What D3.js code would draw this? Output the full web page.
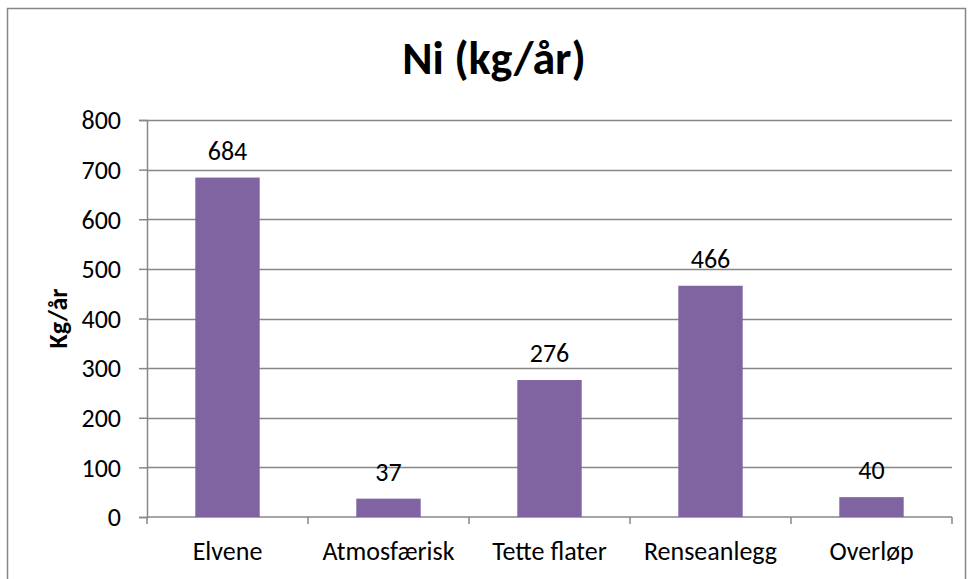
<!DOCTYPE html>
<html>
<head>
<meta charset="utf-8">
<script src="https://cdn.jsdelivr.net/npm/d3@7"></script>
<style>
  body { margin: 0; background: #fff; }
  text { font-family: Carlito, Lato, "Open Sans", sans-serif; fill: #000; }
</style>
</head>
<body>
<div id="chart"></div>
<script>
// Chart data
const categories = ["Elvene", "Atmosfærisk", "Tette flater", "Renseanlegg", "Overløp"];
const values = [684, 37, 276, 466, 40];
const yTicks = [0, 100, 200, 300, 400, 500, 600, 700, 800];
const titleText = "Ni (kg/år)";
const yLabelText = "Kg/år";

const width = 971, height = 579;
const margin = {top: 120, right: 19, bottom: 62, left: 147};
const plot_width = width - margin.left - margin.right;
const plot_height = height - margin.top - margin.bottom;
const grid_color = "#878787";
const bar_color = "#8064a2";
const label_size = "26px";

let svg = d3.select("#chart")
    .append("svg")
    .attr("width", width)
    .attr("height", height);

// Outer chart border
svg.append("rect")
    .attr("x", 7.5)
    .attr("y", 8.5)
    .attr("width", 958)
    .attr("height", 580)
    .attr("fill", "none")
    .attr("stroke", "#868686")
    .attr("stroke-width", 1.5);

// Title
svg.append("text")
    .attr("x", 494)
    .attr("y", 74)
    .style("text-anchor", "middle")
    .style("font-size", "46px")
    .style("font-weight", "bold")
    .text(titleText);

let g = svg.append("g")
    .attr("transform", `translate(${margin.left}, ${margin.top})`);

let x = d3.scaleBand()
    .domain(categories)
    .range([0, plot_width])
    .padding(0);
let y = d3.scaleLinear()
    .domain([0, 800])
    .range([plot_height, 0]);

// Horizontal gridlines
g.append("g")
    .selectAll("line")
    .data(yTicks.filter(d => d > 0))
    .enter()
    .append("line")
    .attr("x1", 0)
    .attr("x2", plot_width)
    .attr("y1", d => Math.round(y(d)) + 0.5)
    .attr("y2", d => Math.round(y(d)) + 0.5)
    .attr("stroke", grid_color)
    .attr("stroke-width", 1.5);

// Y axis
let y_axis = g.append("g")
    .call(d3.axisLeft(y).tickValues(yTicks).tickSize(8).tickPadding(18));
y_axis.select(".domain").attr("stroke", grid_color).attr("stroke-width", 1.5);
y_axis.selectAll(".tick line").attr("stroke", grid_color).attr("stroke-width", 1.5);
y_axis.selectAll(".tick text")
    .style("font-size", label_size)
    .attr("dy", "0.34em");

// X axis: ticks at category boundaries
let x_axis = g.append("g")
    .attr("transform", `translate(0, ${plot_height})`);
x_axis.append("line")
    .attr("x1", 0)
    .attr("x2", plot_width)
    .attr("stroke", grid_color)
    .attr("stroke-width", 1.5);
x_axis.selectAll(".xtick")
    .data(categories.concat(["end"]))
    .enter()
    .append("line")
    .attr("class", "xtick")
    .attr("x1", (d, i) => i < categories.length ? x(d) : plot_width)
    .attr("x2", (d, i) => i < categories.length ? x(d) : plot_width)
    .attr("y1", 0)
    .attr("y2", 7)
    .attr("stroke", grid_color)
    .attr("stroke-width", 1.5);
x_axis.selectAll(".xlabel")
    .data(categories)
    .enter()
    .append("text")
    .attr("class", "xlabel")
    .attr("x", d => x(d) + x.bandwidth() / 2)
    .attr("y", 43)
    .style("text-anchor", "middle")
    .style("font-size", label_size)
    .text(d => d);

// Bars
const bar_w = x.bandwidth() * 0.4;
g.selectAll(".bar")
    .data(values)
    .enter()
    .append("rect")
    .attr("class", "bar")
    .attr("x", (d, i) => x(categories[i]) + x.bandwidth() / 2 - bar_w / 2)
    .attr("y", d => y(d))
    .attr("width", bar_w)
    .attr("height", d => plot_height - y(d))
    .attr("fill", bar_color);

// Value labels
g.selectAll(".val")
    .data(values)
    .enter()
    .append("text")
    .attr("class", "val")
    .attr("x", (d, i) => x(categories[i]) + x.bandwidth() / 2)
    .attr("y", d => y(d) - 18)
    .style("text-anchor", "middle")
    .style("font-size", label_size)
    .text(d => d);

// Y axis label
svg.append("text")
    .attr("transform", `translate(67, ${margin.top + plot_height / 2}) rotate(-90)`)
    .style("text-anchor", "middle")
    .style("font-size", "26px")
    .style("font-weight", "bold")
    .text(yLabelText);
</script>
</body>
</html>
